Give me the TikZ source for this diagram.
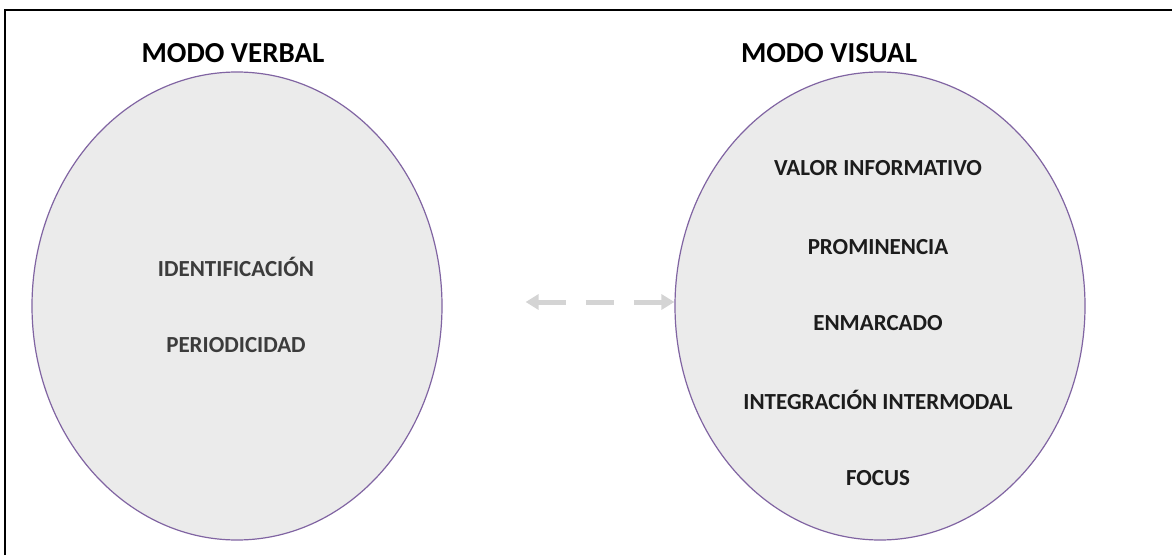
\documentclass[tikz,border=0pt]{standalone}
\usepackage{fontspec}
\setmainfont{Carlito}
\usepackage{tikz}
\usetikzlibrary{positioning}
\usetikzlibrary{shapes.geometric}
\usetikzlibrary{arrows.meta}
\usepackage{xcolor}
\definecolor{modofill}{HTML}{EBEBEB}
\definecolor{modoline}{HTML}{8064A2}
\definecolor{verbalgray}{HTML}{3C3C3C}
\definecolor{visualgray}{HTML}{1C1C1C}
\definecolor{arrowgray}{HTML}{D4D4D4}

\begin{document}
\begin{tikzpicture}[x=1pt, y=1pt,
    modo/.style={ellipse, draw=modoline, fill=modofill, line width=1.2pt,
        minimum width=410pt, minimum height=468pt, inner sep=0pt},
    titulo/.style={font=\bfseries\fontsize{29}{34}\selectfont},
    rasgo/.style={font=\bfseries\fontsize{23}{28}\selectfont},
    enlace/.style={arrowgray, line width=5pt, dash pattern=on 28pt off 20pt,
        {Triangle[width=15pt,length=13pt]}-{Triangle[width=15pt,length=13pt]}}]
    \useasboundingbox (0,0) rectangle (1172,555);
    % Marco
    \draw[line width=2pt] (5,0) -- (5,545) -- (1172,545);
    
    % Modos
    \node[modo] (verbal) at (237,249) {};
    \node[modo] (visual) at (880,249) {};
    \node[titulo] (tverbal) at (233,502) {MODO VERBAL};
    \node[titulo] (tvisual) at (829,502) {MODO VISUAL};
    
    % Rasgos del modo verbal
    \node[rasgo, text=verbalgray] (ident) at (236,288) {IDENTIFICACIÓN};
    \node[rasgo, text=verbalgray] (period) at (236,210) {PERIODICIDAD};
    
    % Rasgos del modo visual
    \foreach \y/\id/\nombre in {387/valor/VALOR INFORMATIVO, 308/prom/PROMINENCIA, 232/enmarc/ENMARCADO, 155/integ/INTEGRACIÓN INTERMODAL, 77/focus/FOCUS} {
        \node[rasgo, text=visualgray] (\id) at (878,\y) {\nombre};
    }
    
    % Relación entre modos
    \draw[enlace] ([shift={(83pt,4pt)}]verbal.east) -- ([yshift=4pt]visual.west);
\end{tikzpicture}
\end{document}
